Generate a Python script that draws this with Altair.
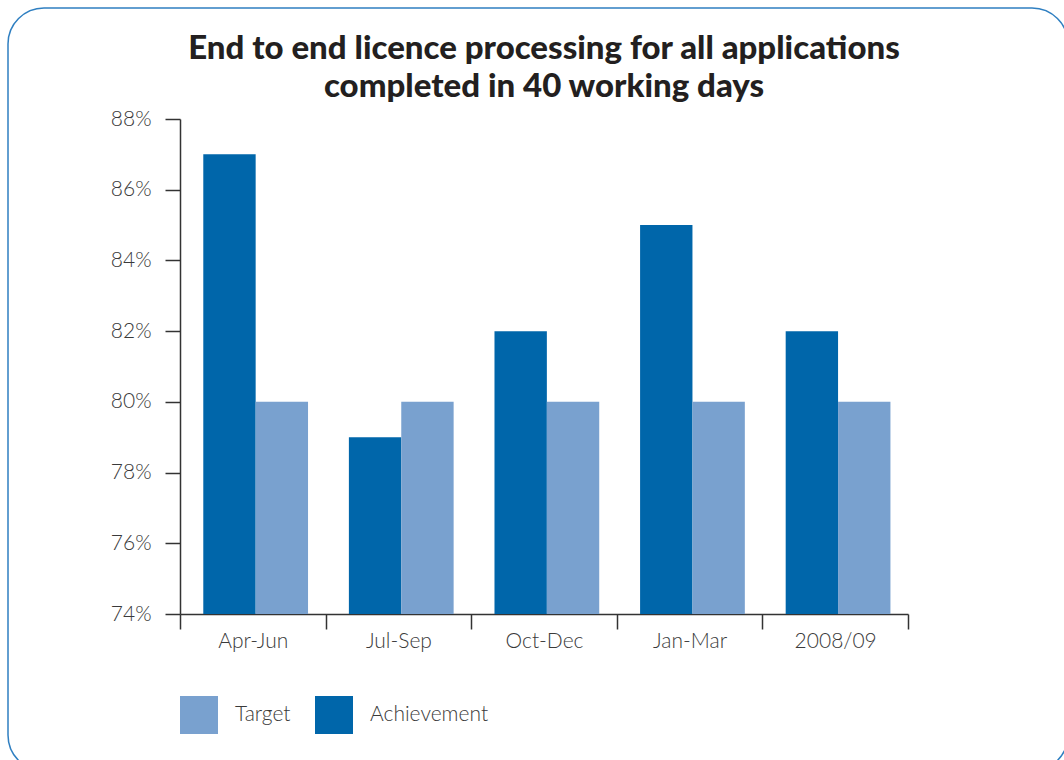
import altair as alt
import pandas as pd

periods = ["Apr-Jun", "Jul-Sep", "Oct-Dec", "Jan-Mar", "2008/09"]
achievement = [87, 79, 82, 85, 82]
target = [80, 80, 80, 80, 80]
series_names = ["Target", "Achievement"]
y_ticks = [74, 76, 78, 80, 82, 84, 86, 88]

rows = []
for p, a, t in zip(periods, achievement, target):
    rows.append({"period": p, "series": "Achievement", "value": a})
    rows.append({"period": p, "series": "Target", "value": t})
df = pd.DataFrame(rows)

FONT = "Lato"
AXIS_COL = "#333333"
TEXT_COL = "#3a3a3a"
LIGHT = "#79a1cf"
DARK = "#0066aa"

bars = alt.Chart(df).mark_bar().encode(
    x=alt.X(
        "period:N",
        sort=periods,
        scale=alt.Scale(paddingInner=0, paddingOuter=0),
        axis=alt.Axis(
            title=None, labelAngle=0, tickBand="extent", tickSize=15, tickWidth=1.5,
            domainWidth=1.5, domainColor=AXIS_COL, tickColor=AXIS_COL,
            labelFont=FONT, labelFontSize=21, labelFontWeight=300, labelColor=TEXT_COL,
            labelPadding=1,
        ),
    ),
    xOffset=alt.XOffset("series:N", sort=["Achievement", "Target"],
                        scale=alt.Scale(paddingOuter=0.39, paddingInner=0, align=0.57)),
    y=alt.Y(
        "value:Q",
        scale=alt.Scale(domain=[74, 88], zero=False, nice=False),
        axis=alt.Axis(
            title=None, values=y_ticks, labelExpr="datum.value + '%'", grid=False,
            tickSize=15, tickWidth=1.5, domainWidth=1.5, domainColor=AXIS_COL,
            tickColor=AXIS_COL, labelFont=FONT, labelFontSize=21, labelFontWeight=300,
            labelColor=TEXT_COL, labelPadding=14,
        ),
    ),
    y2=alt.Y2(datum=74),
    color=alt.Color(
        "series:N",
        scale=alt.Scale(domain=series_names, range=[LIGHT, DARK]),
        legend=alt.Legend(
            title=None, orient="none", legendX=0, legendY=577, direction="horizontal",
            symbolType="square", symbolSize=1444, symbolStrokeWidth=0, symbolOpacity=1,
            labelFont=FONT, labelFontSize=21, labelFontWeight=300, labelColor=TEXT_COL,
            labelOffset=17, columnPadding=24,
        ),
    ),
)

border = alt.Chart(pd.DataFrame({"a": [0]})).mark_rect(
    fill="white", fillOpacity=0, stroke="#2f7fc1", strokeWidth=1.5, cornerRadius=36
).encode(
    x=alt.value(-172), x2=alt.value(888), y=alt.value(-111), y2=alt.value(652)
)

chart = alt.layer(border, bars).properties(
    width=728,
    height=495,
    background="white",
    autosize=alt.AutoSizeParams(type="none"),
    padding={"left": 180, "top": 119, "right": 156, "bottom": 146},
    title=alt.TitleParams(
        ["End to end licence processing for all applications", "completed in 40 working days"],
        font=FONT, fontSize=33, fontWeight=900, color="#231f20",
        anchor="middle", lineHeight=38, offset=0, dy=97, frame="group",
    ),
).configure_view(stroke=None)

chart.save("out.html", embed_options={"renderer": "svg", "actions": False})
